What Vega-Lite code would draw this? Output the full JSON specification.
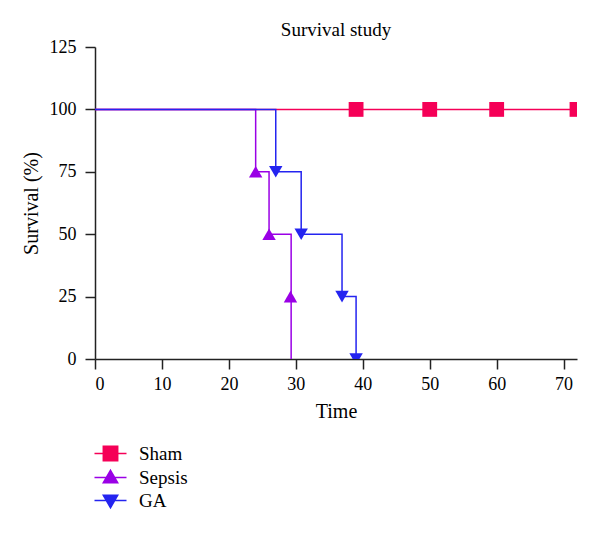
{
  "$schema": "https://vega.github.io/schema/vega-lite/v6.json",
  "autosize": {"type": "none"},
  "width": 482,
  "height": 312,
  "padding": {"left": 95, "top": 47, "right": 23, "bottom": 175},
  "background": "white",
  "title": {"text": "Survival study", "font": "Liberation Serif", "fontSize": 19, "fontWeight": "normal", "color": "#000", "offset": -2},
  "config": {
    "view": {"stroke": null},
    "axis": {"labelFont": "Liberation Serif", "labelFontSize": 18, "labelColor": "#000", "titleFont": "Liberation Serif", "titleFontSize": 20, "titleFontWeight": "normal", "titleColor": "#000", "domainColor": "#222", "tickColor": "#222", "domainWidth": 1.5, "tickWidth": 1.5, "grid": false, "tickSize": 10, "labelPadding": 6}
  },
  "datasets": {
    "steps": [
      {"group": "Sham", "time": 0, "survival": 100},
      {"group": "Sham", "time": 72, "survival": 100},
      {"group": "Sepsis", "time": 0, "survival": 100},
      {"group": "Sepsis", "time": 24, "survival": 75},
      {"group": "Sepsis", "time": 26, "survival": 50},
      {"group": "Sepsis", "time": 29.3, "survival": 0},
      {"group": "GA", "time": 0, "survival": 100},
      {"group": "GA", "time": 27, "survival": 75},
      {"group": "GA", "time": 30.8, "survival": 50},
      {"group": "GA", "time": 36.9, "survival": 25},
      {"group": "GA", "time": 39, "survival": 0}
    ],
    "marks": [
      {"group": "Sham", "time": 39, "survival": 100},
      {"group": "Sham", "time": 50, "survival": 100},
      {"group": "Sham", "time": 60, "survival": 100},
      {"group": "Sham", "time": 72, "survival": 100},
      {"group": "Sepsis", "time": 24, "survival": 75},
      {"group": "Sepsis", "time": 26, "survival": 50},
      {"group": "Sepsis", "time": 29.2, "survival": 25},
      {"group": "GA", "time": 27, "survival": 75},
      {"group": "GA", "time": 30.8, "survival": 50},
      {"group": "GA", "time": 36.9, "survival": 25},
      {"group": "GA", "time": 39, "survival": 0}
    ]
  },
  "encoding": {
    "x": {"field": "time", "type": "quantitative", "scale": {"domain": [0, 72], "nice": false},
          "axis": {"values": [0, 10, 20, 30, 40, 50, 60, 70], "title": "Time", "titlePadding": 8}},
    "y": {"field": "survival", "type": "quantitative", "scale": {"domain": [0, 125], "nice": false},
          "axis": {"values": [0, 25, 50, 75, 100, 125], "title": "Survival (%)", "titlePadding": 8, "labelPadding": 9}},
    "color": {"field": "group", "type": "nominal", "scale": {"domain": ["Sham", "Sepsis", "GA"], "range": ["#f50057", "#9a00e6", "#2424f0"]},
              "legend": {"orient": "none", "legendX": 6, "legendY": 397, "title": null, "padding": 0,
                         "labelFont": "Liberation Serif", "labelFontSize": 19, "labelColor": "#000", "labelOffset": 19,
                         "symbolSize": 256, "rowPadding": 3,
                         "encode": {"symbols": {"update": {
                           "shape": {"signal": "datum.value === 'Sham' ? 'M-2,0H2M-0.9,-0.9H0.9V0.9H-0.9Z' : datum.value === 'Sepsis' ? 'M-2,0H2M0,-0.9L0.9,0.65L-0.9,0.65Z' : 'M-2,0H2M-0.9,-0.65L0.9,-0.65L0,0.9Z'"},
                           "stroke": {"signal": "scale('color', datum.value)"},
                           "strokeWidth": {"value": 1.5},
                           "fill": {"signal": "scale('color', datum.value)"},
                           "opacity": {"value": 1}
                         }}}}}
  },
  "layer": [
    {
      "data": {"name": "steps"},
      "transform": [{"filter": "datum.group === 'Sham'"}],
      "mark": {"type": "line", "interpolate": "step-after", "strokeWidth": 1.5}
    },
    {
      "data": {"name": "steps"},
      "transform": [{"filter": "datum.group === 'Sepsis'"}],
      "mark": {"type": "line", "interpolate": "step-after", "strokeWidth": 1.5}
    },
    {
      "data": {"name": "steps"},
      "transform": [{"filter": "datum.group === 'GA'"}],
      "mark": {"type": "line", "interpolate": "step-after", "strokeWidth": 1.5}
    },
    {
      "data": {"name": "marks"},
      "transform": [{"filter": "datum.group === 'Sham'"}],
      "mark": {"type": "point", "shape": "square", "filled": true, "opacity": 1, "clip": true, "size": 220}
    },
    {
      "data": {"name": "marks"},
      "transform": [{"filter": "datum.group === 'Sepsis'"}],
      "mark": {"type": "point", "shape": "triangle-up", "filled": true, "opacity": 1, "clip": true, "size": 180}
    },
    {
      "data": {"name": "marks"},
      "transform": [{"filter": "datum.group === 'GA'"}],
      "mark": {"type": "point", "shape": "triangle-down", "filled": true, "opacity": 1, "clip": true, "size": 180}
    }
  ]
}
